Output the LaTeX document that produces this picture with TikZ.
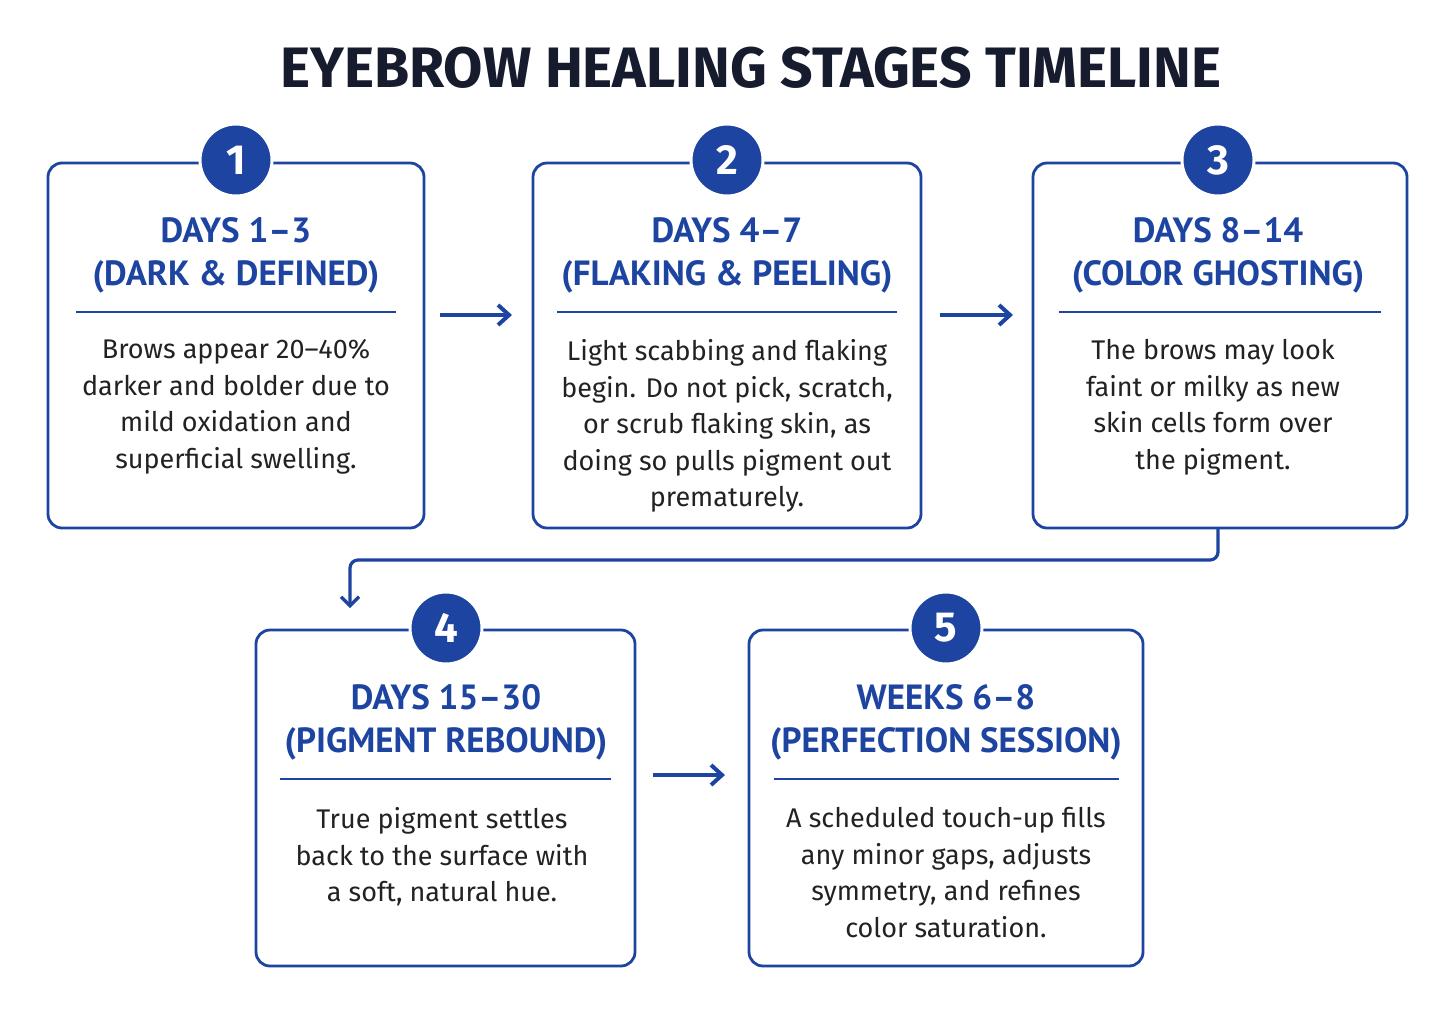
\documentclass[tikz,border=0pt]{standalone}
\usepackage{fontspec}
\setmainfont{Fira Sans}
\newfontfamily\headf{PT Sans}
\usetikzlibrary{arrows.meta}
\definecolor{bl}{HTML}{1D44A0}
\definecolor{tt}{HTML}{161B2E}
\definecolor{bt}{HTML}{222222}
\begin{document}
\begin{tikzpicture}[x=1pt,y=-1pt,
 box/.style={draw=bl,line width=2.8pt,rounded corners=14pt},
 num/.style={circle,fill=bl,draw=white,line width=3pt,minimum size=72pt,inner sep=0pt,text=white,font=\fontsize{42}{42}\selectfont\bfseries},
 head/.style={align=center,text=bl,font=\headf\fontsize{35}{43}\selectfont\bfseries},
 body/.style={align=center,text=bt,font=\fontsize{27}{36.5}\selectfont},
 arr/.style={draw=bl,line width=4pt,-{Straight Barb[length=11pt,width=20pt]}},
 rule/.style={draw=bl,line width=2.5pt}]
\fill[white] (0,0) rectangle (1455,1018);
\useasboundingbox (0,0) rectangle (1455,1018);
\node[text=tt,font=\fontsize{57}{57}\selectfont\bfseries] (title) at (751,68) {EYEBROW HEALING STAGES TIMELINE};
\draw[box] (48,163) rectangle (424,528);
\draw[box] (533,163) rectangle (921,528);
\draw[box] (1033,163) rectangle (1407,528);
\draw[box] (256,630) rectangle (635,966);
\draw[box] (749,630) rectangle (1143,966);
\node[num] (n1) at (236,160) {1};
\node[num] (n2) at (727,160) {2};
\node[num] (n3) at (1218,160) {3};
\node[num] (n4) at (446,628) {4};
\node[num] (n5) at (946,628) {5};
\node[head] (h1) at (236,255) {DAYS 1–3\\(DARK \& DEFINED)};
\node[head] (h2) at (727,255) {DAYS 4–7\\(FLAKING \& PEELING)};
\node[head] (h3) at (1218,255) {DAYS 8–14\\(COLOR GHOSTING)};
\node[head] (h4) at (446,722) {DAYS 15–30\\(PIGMENT REBOUND)};
\node[head] (h5) at (946,722) {WEEKS 6–8\\(PERFECTION SESSION)};
\draw[rule] (76,312) -- (396,312);
\draw[rule] (557,312) -- (897,312);
\draw[rule] (1059,312) -- (1381,312);
\draw[rule] (280,779) -- (611,779);
\draw[rule] (774,779) -- (1119,779);
\node[body,anchor=north] (t1) at (236,336) {Brows appear 20–40\%\\darker and bolder due to\\mild oxidation and\\superficial swelling.};
\node[body,anchor=north] (t2) at (727,336) {Light scabbing and flaking\\begin. Do not pick, scratch,\\or scrub flaking skin, as\\doing so pulls pigment out\\prematurely.};
\node[body,anchor=north] (t3) at (1213,336) {The brows may look\\faint or milky as new\\skin cells form over\\the pigment.};
\node[body,anchor=north] (t4) at (442,804) {True pigment settles\\back to the surface with\\a soft, natural hue.};
\node[body,anchor=north] (t5) at (946,804) {A scheduled touch-up fills\\any minor gaps, adjusts\\symmetry, and refines\\color saturation.};
\coordinate (a1s) at (440,315); \coordinate (a1e) at (512,315);
\coordinate (a2s) at (940,315); \coordinate (a2e) at (1013,315);
\coordinate (a3s) at (653,775); \coordinate (a3e) at (725,775);
\draw[arr] (a1s) -- (a1e);
\draw[arr] (a2s) -- (a2e);
\draw[arr] (a3s) -- (a3e);
\coordinate (c1) at (1218,529); \coordinate (c2) at (350,608);
\draw[draw=bl,line width=3.2pt,rounded corners=8pt,-{Straight Barb[length=9pt,width=18pt]}] (c1) -- (1218,560) -- (350,560) -- (c2);
\end{tikzpicture}
\end{document}
